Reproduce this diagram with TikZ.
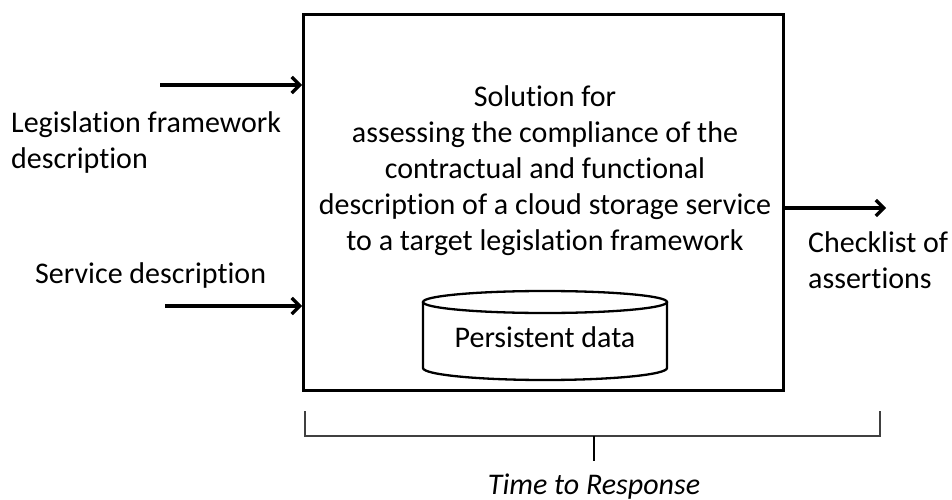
\documentclass[tikz,border=0pt]{standalone}
\usepackage{fontspec}
\setmainfont{Carlito}[RawFeature={-liga}]
\usetikzlibrary{arrows.meta}
\begin{document}
\begin{tikzpicture}[x=1pt,y=-1pt,
  lbl/.style={font=\fontsize{30}{36}\selectfont, inner sep=0pt},
  inarrow/.style={line width=3.2pt, -{Straight Barb[length=8pt,width=16pt,line width=3.2pt]}},
  bracketline/.style={line width=1.4pt, draw=black!75}]
\useasboundingbox (0,0) rectangle (952,500);
% main box
\node[draw, line width=2.3pt, minimum width=480pt, minimum height=376pt, inner sep=0pt] (box) at (543.5,202.5) {};
% main text (base = baseline of last line)
\node[lbl, align=center, anchor=base] (sol) at (545,250) {Solution for\\assessing the compliance of the\\contractual and functional\\description of a cloud storage service\\to a target legislation framework};
% cylinder
\draw[line width=2.3pt, fill=white] (423,302) -- (423,368) arc[start angle=180, end angle=0, x radius=122, y radius=12] -- (667,302);
\draw[line width=2.3pt] (545,302) ellipse[x radius=122, y radius=11];
\node[lbl, anchor=base] (pd) at (545,347) {Persistent data};
% inputs
\coordinate (in1s) at (160,85);
\coordinate (in1e) at (302,85);
\coordinate (in2s) at (165,306);
\coordinate (in2e) at (302,306);
\draw[inarrow] (in1s) -- (in1e);
\draw[inarrow] (in2s) -- (in2e);
\node[lbl, align=left, anchor=base west] (leg) at (11,168) {Legislation framework\\description};
\node[lbl, anchor=base west] (serv) at (35,283) {Service description};
% output
\coordinate (outs) at (784,208);
\coordinate (oute) at (886,208);
\draw[inarrow] (outs) -- (oute);
\node[lbl, align=left, anchor=base west] (chk) at (808,288) {Checklist of\\assertions};
% bracket
\coordinate (bl) at (305,411);
\coordinate (br) at (880,411);
\coordinate (bc) at (594,436);
\coordinate (bt) at (594,461);
\draw[bracketline] (bl) -- (305,436) -- (880,436) -- (br);
\draw[line width=1.6pt] (bc) -- (bt);
\node[lbl, anchor=base, font=\fontsize{30}{36}\selectfont\itshape] (ttr) at (594,494) {Time to Response};
\end{tikzpicture}
\end{document}
